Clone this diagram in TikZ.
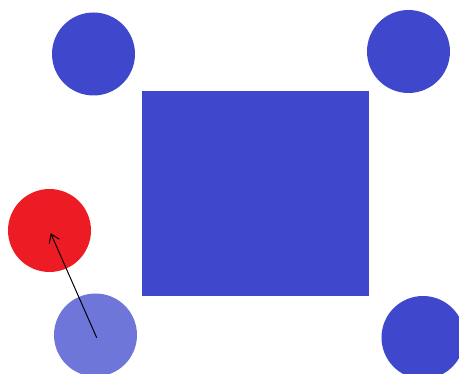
\documentclass[tikz,border=0pt]{standalone}
\usepackage{tikz}
\usetikzlibrary{arrows.meta, positioning, calc}
\definecolor{PuckBlue}{RGB}{63, 72, 204}
\definecolor{PuckLight}{RGB}{111, 118, 218}
\definecolor{PuckRed}{RGB}{237, 28, 36}

\begin{document}
\begin{tikzpicture}[x=1pt, y=-1pt, >={Straight Barb[length=8pt, width=11pt]},
        puck/.style={circle, minimum size=83pt, inner sep=0pt, draw=none}]
        % Canvas frame (fixes the page size)
        \useasboundingbox (0, 0) rectangle (459, 374);

        % Central block
        \node[fill=PuckBlue, minimum width=227pt, minimum height=205pt, inner sep=0pt, anchor=north west] (block) at (142, 91) {};

        % Corner pucks
        \node[puck, fill=PuckBlue] (topleft) at (93.5, 54) {};
        \node[puck, fill=PuckBlue] (topright) at (408.5, 51.5) {};
        \node[puck, fill=PuckBlue] (bottomright) at (423, 337.5) {};

        % Moving puck and its target
        \node[puck, fill=PuckRed] (target) at (49.5, 230.5) {};
        \node[puck, fill=PuckLight] (mover) at (95.5, 335) {};

        % Velocity arrow
        \draw[->, line width=1pt, color=black, shorten >=3pt, shorten <=-3pt] (mover.center) -- (target.center);
    \end{tikzpicture}
\end{document}
